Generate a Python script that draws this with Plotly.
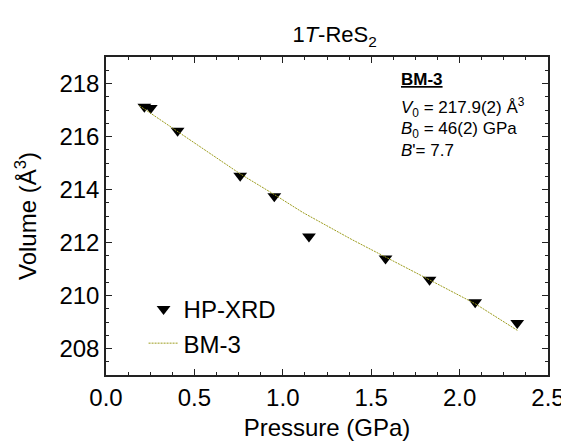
import plotly.graph_objects as go

# Data
pressure = [0.217, 0.253, 0.405, 0.759, 0.952, 1.148, 1.581, 1.830, 2.088, 2.326]
volume = [217.12, 217.08, 216.22, 214.52, 213.75, 212.23, 211.40, 210.59, 209.75, 208.96]

fit_pressure = [0.19, 0.405, 0.759, 0.952, 1.114, 1.391, 1.581, 1.830, 2.088, 2.330]
fit_volume = [217.16, 216.20, 214.59, 213.81, 213.13, 212.11, 211.46, 210.59, 209.69, 208.67]

x_ticks = [0.0, 0.5, 1.0, 1.5, 2.0, 2.5]
x_ticklabels = ["0.0", "0.5", "1.0", "1.5", "2.0", "2.5"]
y_ticks = [208, 210, 212, 214, 216, 218]

FONT = "Arial, Liberation Sans, sans-serif"

fig = go.Figure()
fig.add_trace(go.Scatter(
    x=pressure, y=volume, mode="markers", name="HP-XRD",
    marker=dict(symbol="triangle-down", size=12, color="black", line=dict(width=0)),
))
fig.add_trace(go.Scatter(
    x=fit_pressure, y=fit_volume, mode="lines", name="BM-3",
    line=dict(color="#9c9c1c", width=1, dash="2px,1px"),
))

axis_common = dict(
    showline=True, linecolor="#222222", linewidth=1.5, mirror="ticks",
    ticks="inside", ticklen=6, tickwidth=1.2, tickcolor="#222222",
    showgrid=False, zeroline=False,
    tickfont=dict(family=FONT, size=24, color="black"),
)

fig.update_xaxes(
    range=[0, 2.5], tickvals=x_ticks, ticktext=x_ticklabels,
    minor=dict(dtick=0.125, ticks="inside", ticklen=3, tickwidth=1.2, tickcolor="#222222", showgrid=False),
    title=dict(text="Pressure (GPa)", font=dict(family=FONT, size=24, color="black"), standoff=10),
    **axis_common,
)
fig.update_yaxes(
    range=[207, 219], tickvals=y_ticks,
    minor=dict(dtick=0.5, ticks="inside", ticklen=3, tickwidth=1.2, tickcolor="#222222", showgrid=False),
    title=dict(text="Volume (Å<sup>3</sup>)", font=dict(family=FONT, size=24, color="black"), standoff=16),
    **axis_common,
)

ann_font = dict(family=FONT, size=17, color="black")
lines = [
    "<b><u>BM-3</u></b>",
    "<i>V</i><sub>0</sub> = 217.9(2) Å<sup>3</sup>",
    "<i>B</i><sub>0</sub> = 46(2) GPa",
    "<i>B</i>'= 7.7",
]
ys = [0.928, 0.842, 0.772, 0.705]
annotations = [
    dict(text=t, x=0.663, y=yy, xref="paper", yref="paper", xanchor="left",
         yanchor="middle", showarrow=False, font=ann_font)
    for t, yy in zip(lines, ys)
]

fig.update_layout(
    width=569, height=441,
    margin=dict(l=98, r=19, t=49, b=69),
    plot_bgcolor="white", paper_bgcolor="white",
    title=dict(text="1<i>T</i>-ReS<sub>2</sub>", x=0.574, xanchor="center", y=0.94, yanchor="middle",
               font=dict(family=FONT, size=22, color="black")),
    font=dict(family=FONT, color="black"),
    legend=dict(x=0.085, y=0.153, xanchor="left", yanchor="middle",
                font=dict(family=FONT, size=24, color="black"),
                bgcolor="rgba(0,0,0,0)"),
    annotations=annotations,
)

fig.write_html("out.html")
